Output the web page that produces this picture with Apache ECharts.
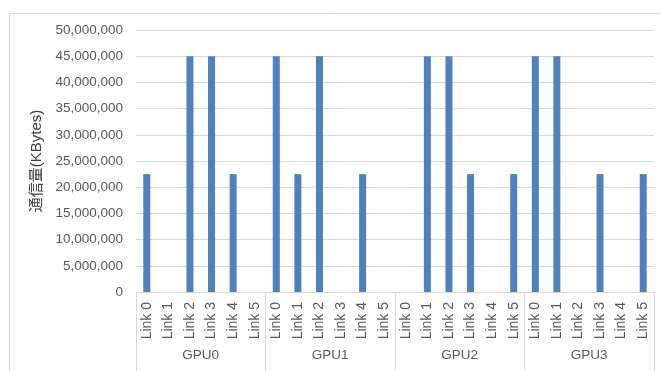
<!DOCTYPE html>
<html>
<head>
<meta charset="utf-8">
<script src="https://cdn.jsdelivr.net/npm/echarts@6/dist/echarts.min.js"></script>
<style>
html,body{margin:0;padding:0;background:#fff;}
#chart{width:661px;height:371px;}
</style>
</head>
<body>
<div id="chart"></div>
<script>
const groups = ['GPU0', 'GPU1', 'GPU2', 'GPU3'];
const links = ['Link 0', 'Link 1', 'Link 2', 'Link 3', 'Link 4', 'Link 5'];
const gpu0 = [22500000, 0, 45000000, 45000000, 22500000, 0];
const gpu1 = [45000000, 22500000, 45000000, 0, 22500000, 0];
const gpu2 = [0, 45000000, 45000000, 22500000, 0, 22500000];
const gpu3 = [45000000, 45000000, 0, 22500000, 0, 22500000];
const yTicks = { min: 0, max: 50000000, interval: 5000000 };
const yName = '通信量(KBytes)';

const categories = [];
groups.forEach(() => links.forEach(l => categories.push(l)));
const values = [].concat(gpu0, gpu1, gpu2, gpu3);

const font = 'Liberation Sans, Arial, sans-serif';
const chart = echarts.init(document.getElementById('chart'));
chart.setOption({
  animation: false,
  backgroundColor: '#ffffff',
  graphic: [{
    type: 'rect',
    left: 7, top: 11,
    shape: { width: 660, height: 370 },
    style: { fill: 'none', stroke: '#d9d9d9', lineWidth: 1 },
    silent: true
  }],
  grid: { left: 136, right: 7, top: 30, bottom: 79, containLabel: false },
  xAxis: [{
    type: 'category',
    data: categories,
    position: 'bottom',
    axisLine: { show: true, lineStyle: { color: '#d9d9d9', width: 1 } },
    axisTick: { show: false },
    axisLabel: {
      interval: 0, rotate: 90, margin: 10,
      color: '#595959', fontSize: 14, fontFamily: font
    }
  }, {
    type: 'category',
    data: groups,
    position: 'bottom',
    axisLine: { show: false },
    axisTick: { show: true, length: 80, interval: 0, lineStyle: { color: '#d9d9d9', width: 1 } },
    axisLabel: { interval: 0, margin: 56, color: '#595959', fontSize: 13.5, fontFamily: font },
    splitLine: { show: false }
  }],
  yAxis: {
    type: 'value',
    min: yTicks.min, max: yTicks.max, interval: yTicks.interval,
    name: yName,
    nameLocation: 'middle',
    nameRotate: 90,
    nameGap: 89,
    nameTextStyle: { color: '#404040', fontSize: 15, fontFamily: 'Liberation Sans, Noto Sans CJK JP, sans-serif' },
    axisLine: { show: false },
    axisTick: { show: false },
    axisLabel: {
      margin: 13, color: '#595959', fontSize: 13.5, fontFamily: font,
      formatter: v => v.toLocaleString('en-US')
    },
    splitLine: { lineStyle: { color: '#d9d9d9', width: 1 } }
  },
  series: [{
    type: 'bar',
    xAxisIndex: 0,
    data: values,
    barWidth: 7,
    itemStyle: { color: '#4f81bd' }
  }]
});
</script>
</body>
</html>
